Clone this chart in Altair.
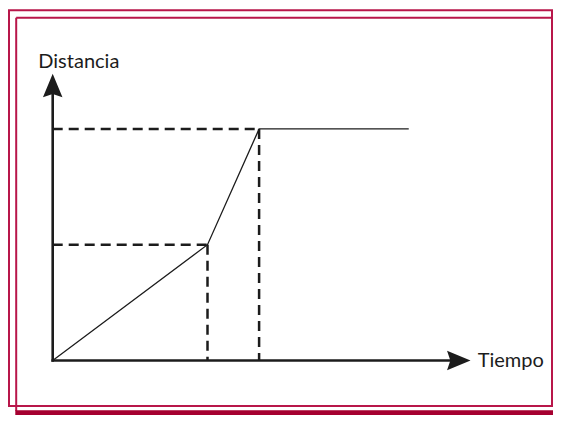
import altair as alt
import pandas as pd

# ---- data ----
tiempo = [0, 3, 4, 6.9]
distancia = [0, 1, 2, 2]
x_label = "Tiempo"
y_label = "Distancia"
x_axis_end = 7.8
y_axis_end = 2.3
x_arrow = 7.87
y_arrow = 2.375

INK = "#1c1c1c"
CRIMSON = "#b8164a"
BAR = "#a50030"
ARROW = "M1,0 L-1,-0.83 L-0.72,0 L-1,0.83 Z"

W, H = 545, 407

xs = alt.Scale(domain=[0, 10], range=[44.7, 560.7], nice=False, zero=False)
ys = alt.Scale(domain=[0, 3], range=[352.5, 5.1], nice=False, zero=False)

line_df = pd.DataFrame({"t": tiempo, "d": distancia, "o": list(range(len(tiempo)))})
guides = []
for t, d in zip(tiempo[1:3], distancia[1:3]):
    guides.append({"x": 0, "y": d, "x2": t, "y2": d})
    guides.append({"x": t, "y": d, "x2": t, "y2": 0})
guide_df = pd.DataFrame(guides)
axes_df = pd.DataFrame([
    {"x": 0, "y": 0, "x2": x_axis_end, "y2": 0},
    {"x": 0, "y": 0, "x2": 0, "y2": y_axis_end},
])
arrow_df = pd.DataFrame([
    {"x": x_arrow, "y": 0, "a": 0},
    {"x": 0, "y": y_arrow, "a": 270},
])
one = pd.DataFrame({"k": [0]})

# ---- frame ----
outer = alt.Chart(one).mark_rect(fill="transparent", stroke=CRIMSON, strokeWidth=2).encode(
    x=alt.value(1), x2=alt.value(W - 1), y=alt.value(2.3), y2=alt.value(398))
inner_top = alt.Chart(one).mark_rule(color=CRIMSON, strokeWidth=2).encode(
    x=alt.value(8.2), x2=alt.value(W - 1), y=alt.value(9.8))
inner_left = alt.Chart(one).mark_rule(color=CRIMSON, strokeWidth=2).encode(
    x=alt.value(8.2), y=alt.value(9.8), y2=alt.value(403))
bar = alt.Chart(one).mark_rect(color=BAR).encode(
    x=alt.value(7.3), x2=alt.value(W), y=alt.value(402.3), y2=alt.value(H))

# ---- plot ----
guide_layer = alt.Chart(guide_df).mark_rule(color=INK, strokeWidth=2.5, strokeDash=[10, 6]).encode(
    x=alt.X("x:Q", scale=xs, axis=None), y=alt.Y("y:Q", scale=ys, axis=None),
    x2="x2:Q", y2="y2:Q")
axes_layer = alt.Chart(axes_df).mark_rule(color=INK, strokeWidth=2.6, strokeCap="square").encode(
    x=alt.X("x:Q", scale=xs, axis=None), y=alt.Y("y:Q", scale=ys, axis=None),
    x2="x2:Q", y2="y2:Q")
line_layer = alt.Chart(line_df).mark_line(color=INK, strokeWidth=1.3).encode(
    x=alt.X("t:Q", scale=xs, axis=None), y=alt.Y("d:Q", scale=ys, axis=None), order="o:Q")
arrow_layer = alt.Chart(arrow_df).mark_point(shape=ARROW, filled=True, size=552, color=INK,
                                             opacity=1, strokeWidth=0).encode(
    x=alt.X("x:Q", scale=xs, axis=None), y=alt.Y("y:Q", scale=ys, axis=None),
    angle=alt.Angle("a:Q", scale=None))
x_text = alt.Chart(one).mark_text(text=x_label, align="left", baseline="alphabetic",
                                  font="Lato", fontSize=20, color=INK).encode(
    x=alt.value(469.7), y=alt.value(358.7))
y_text = alt.Chart(one).mark_text(text=y_label, align="left", baseline="alphabetic",
                                  font="Lato", fontSize=20, color=INK).encode(
    x=alt.value(30.3), y=alt.value(60.3))

chart = alt.layer(
    outer, inner_top, inner_left, bar,
    guide_layer, axes_layer, line_layer, arrow_layer, x_text, y_text
).properties(
    width=W, height=H, padding=0,
    autosize=alt.AutoSizeParams(type="none"),
    background="white",
).configure_view(stroke=None)

chart.save("out.html", embed_options={"renderer": "svg", "actions": False})
